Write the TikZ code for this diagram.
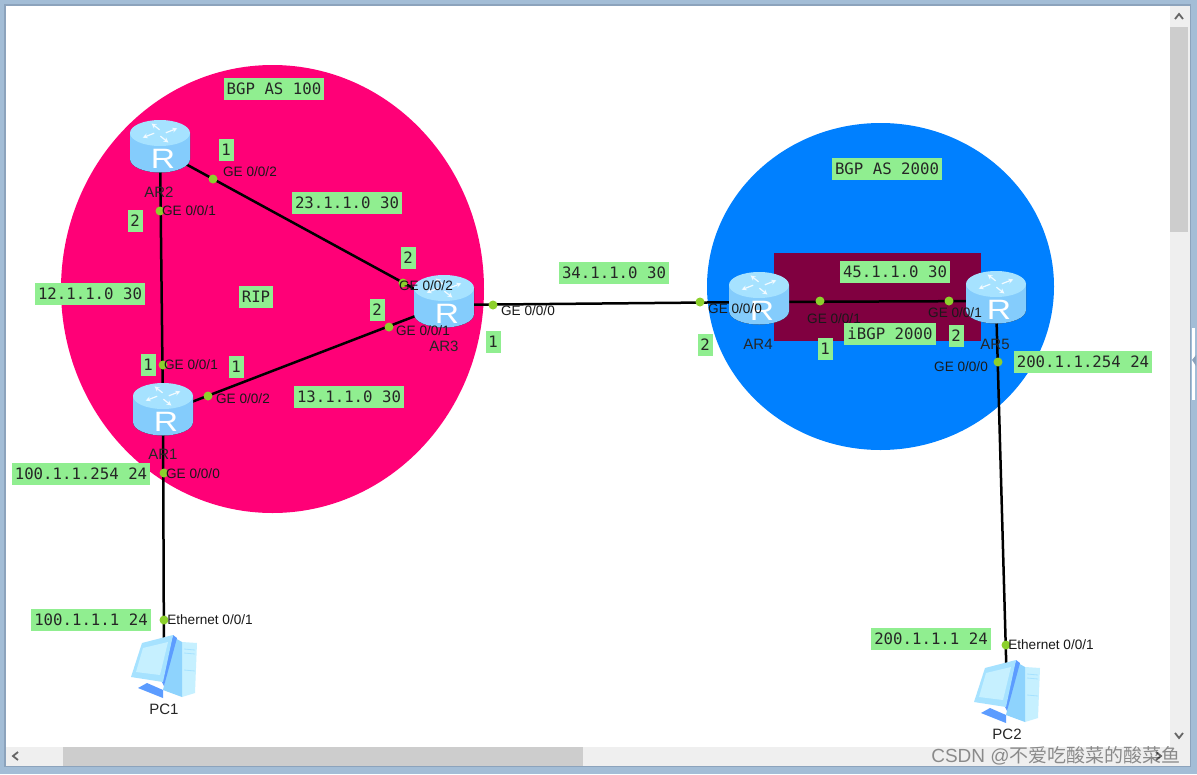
\documentclass[tikz,border=0pt]{standalone}
\usepackage{fontspec}
\setmainfont{Liberation Sans}
\setmonofont{DejaVu Sans Mono}
\newfontfamily\cjkfont{Noto Sans CJK SC}
\usetikzlibrary{backgrounds}
\usetikzlibrary{calc}
\definecolor{framecol}{HTML}{A3BDD6}
\definecolor{framedark}{HTML}{8CA3BC}
\definecolor{barcol}{HTML}{EFEFEF}
\definecolor{thumbcol}{HTML}{CDCDCD}
\definecolor{pinkzone}{HTML}{FF0077}
\definecolor{bluezone}{HTML}{0080FF}
\definecolor{ibgpzone}{HTML}{800040}
\definecolor{notecol}{HTML}{90EE90}
\definecolor{dotcol}{HTML}{8CD02C}
\definecolor{iconlight}{HTML}{C6F0FF}
\definecolor{iconmid}{HTML}{A6E2FF}
\definecolor{icondark}{HTML}{84CCFC}
\definecolor{iconedge}{HTML}{5C9CFF}
\tikzset{
  note/.style={fill=notecol, inner sep=0pt, text=black!85, font=\ttfamily\fontsize{15.7}{15.7}\selectfont, minimum height=22pt, text height=11pt, text depth=0pt},
  port/.style={font=\fontsize{13.6}{13.6}\selectfont, inner sep=0pt, text=black!90},
  devname/.style={font=\fontsize{15}{15}\selectfont, inner sep=0pt, text=black!85},
  portdot/.style={circle, fill=dotcol, inner sep=0pt, minimum size=9pt},
  link/.style={line width=2.5pt, black},
}
% router icon, link point at #1
\newcommand{\routericon}[1]{
  \begin{scope}[shift={($(#1)+(0,-4)$)}]
    \fill[left color=icondark, middle color=iconlight, right color=icondark]
      (-30,-13) -- (-30,13) arc[start angle=180, end angle=0, x radius=30, y radius=13.5] -- (30,-13) -- cycle;
    \fill[iconmid] (0,-13) ellipse[x radius=30, y radius=13];
    \begin{scope}[shift={(0,-13)}, yscale=.55]
      \foreach \a in {35,125,215,305}
        \draw[white, line width=1.2pt, opacity=.85, -stealth, rotate=\a] (5,3) -- (19,3);
    \end{scope}
    \node[inner sep=0pt, text=white, xscale=1.2, font=\fontsize{28}{28}\selectfont] at (3,13) {R};
  \end{scope}
}
% pc icon, centre at #1
\newcommand{\pcicon}[1]{
  \begin{scope}[shift={(#1)}]
    \fill[iconlight] (18,-24) -- (33,-23) -- (31,27) -- (18,31) -- cycle;
    \fill[icondark!70!iconmid] (11,-28) -- (18,-24) -- (18,31) -- (-1,24) -- cycle;
    \fill[iconedge] (-26,22) -- (-17,17) -- (-1,24) -- (-1,32) -- cycle;
    \fill[iconedge] (9,-31) -- (13,-28) -- (0,20) -- (-3,14) -- cycle;
    \fill[iconmid] (-22,-23) -- (9,-31) -- (-1,16) -- (-33,11) -- cycle;
    \fill[iconlight] (-21,-18) -- (4,-24) -- (-4,9) -- (-28,6) -- cycle;
    \foreach \y in {-17,-13,4} \draw[iconmid, line width=.8pt] (20,\y) -- (31,\y+1);
  \end{scope}
}

\begin{document}
\begin{tikzpicture}[x=1pt, y=-1pt, >=latex]
\useasboundingbox (0,0) rectangle (1197,774);
% window
\fill[framecol] (0,0) rectangle (1197,774);
\draw[framedark, line width=1.5pt] (5,5) rectangle (1190.5,766.5);
\fill[white] (6,6) rectangle (1190,766);
\fill[barcol] (1170,6) rectangle (1190,747);
\fill[barcol] (6,747) rectangle (1190,766);
\fill[thumbcol] (1170,27) rectangle (1188,232);
\fill[thumbcol] (63,747) rectangle (583,766);
\fill[white] (1192,328) rectangle (1195,400);
\fill[framedark] (1196,355) -- (1192,360) -- (1196,366) -- cycle;
\draw[black!60, line width=1.8pt] (1175,19) -- (1179,14) -- (1183,19);
\draw[black!60, line width=1.8pt] (1175,733) -- (1179,738) -- (1183,733);
\draw[black!60, line width=1.8pt] (18,752) -- (13,756) -- (18,760);
\draw[black!60, line width=1.8pt] (1156,752) -- (1161,756) -- (1156,760);

% zones
\fill[pinkzone] (272.5,289) ellipse[x radius=211.5, y radius=224];
\fill[bluezone] (880.5,286.5) ellipse[x radius=173.5, y radius=163.5];
\fill[ibgpzone] (774,253) rectangle (981,341);

% devices
\coordinate (AR1) at (163,413);
\coordinate (AR2) at (160,150);
\coordinate (AR3) at (444,305);
\coordinate (AR4) at (759,302);
\coordinate (AR5) at (996,301);
\coordinate (PC1) at (164,666);
\coordinate (PC2) at (1007,691);

\draw[link] (AR2) -- (AR1);
\draw[link] (AR2) -- (AR3);
\draw[link] (AR1) -- (AR3);
\draw[link] (AR3) -- (AR4);
\draw[link] (AR4) -- (AR5);
\draw[link] (AR1) -- (PC1);
\draw[link] (AR5) -- (PC2);

\foreach \d in {AR1,AR2,AR3,AR4,AR5} {
  \routericon{\d}
}
\pcicon{PC1}
\pcicon{PC2}

% port dots
\foreach \n/\x/\y in {d21/160/211, d22/213/179, d11/163/365, d12/208/396, d10/164/473,
    d32/403/283, d31/389/327, d30/493/305, d40/700/302, d41/820/301,
    d51/949/301, d50/998/362, dp1/164/620, dp2/1006/645} {
  \node[portdot] (\n) at (\x,\y) {};
}

% device names
\foreach \n/\x/\y/\t in {nAR2/159/192/AR2, nAR1/163/454/AR1, nAR3/444/346/AR3, nAR4/758/344/AR4,
    nAR5/995/344/AR5, nPC1/164/709/PC1, nPC2/1007/734/PC2} {
  \node[devname] (\n) at (\x,\y) {\t};
}

% port names
\foreach \n/\x/\y/\t in {p22/250/172/{GE 0/0/2}, p21/189/211/{GE 0/0/1}, p11/191/365/{GE 0/0/1},
    p12/243/399/{GE 0/0/2}, p10/193/474/{GE 0/0/0}, p32/426/286/{GE 0/0/2}, p31/423/331/{GE 0/0/1},
    p30/528/311/{GE 0/0/0}, p40/735/309/{GE 0/0/0}, p41/834/319/{GE 0/0/1}, p51/955/313/{GE 0/0/1},
    p50/961/367/{GE 0/0/0}, pp1/210/620/{Ethernet 0/0/1}, pp2/1051/645/{Ethernet 0/0/1}} {
  \node[port] (\n) at (\x,\y) {\t};
}

% notes
\foreach \n/\x/\y/\t in {a1/274/89/BGP AS 100, a2/887/169/BGP AS 2000, a3/256/297/RIP,
    a4/347/203/23.1.1.0 30, a5/90/294/12.1.1.0 30, a6/349/397/13.1.1.0 30,
    a7/81/474/100.1.1.254 24, a8/91/620/100.1.1.1 24, a9/614/273/34.1.1.0 30,
    a10/895/272/45.1.1.0 30, a11/890/334/iBGP 2000, a12/1083/362/200.1.1.254 24,
    a13/931/639/200.1.1.1 24} {
  \node[note, inner xsep=3pt] (\n) at (\x,\y) {\t};
}
\foreach \n/\x/\y/\t in {b1/226/150/1, b2/135/221/2, b3/408/258/2, b4/377/310/2, b5/148/365/1,
    b6/236/367/1, b7/493/342/1, b8/705/345/2, b9/825/349/1, b10/956/336/2} {
  \node[note, minimum width=15pt] (\n) at (\x,\y) {\t};
}

% watermark
\node[inner sep=0pt, text=black, text opacity=.42, font=\fontsize{19}{19}\selectfont] (mark) at (1056,756) {CSDN @{\cjkfont 不爱吃酸菜的酸菜鱼}};
\end{tikzpicture}
\end{document}
